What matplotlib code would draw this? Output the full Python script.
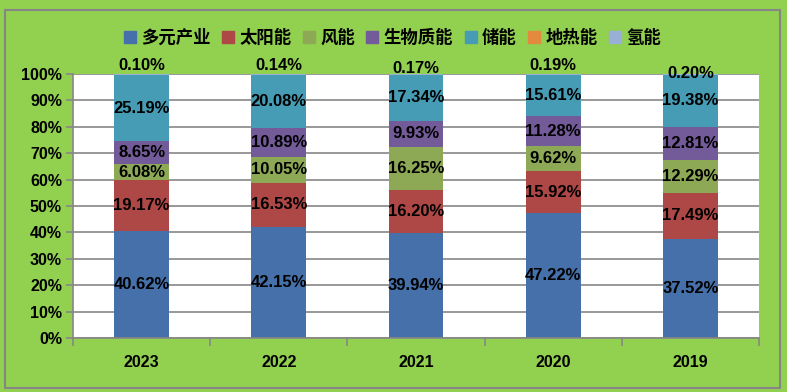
import matplotlib
matplotlib.use("Agg")
import matplotlib.pyplot as plt
from matplotlib.patches import Rectangle
from matplotlib.lines import Line2D
import numpy as np

plt.rcParams['font.family'] = ['Liberation Sans', 'Noto Sans CJK SC', 'DejaVu Sans']

years = ["2023", "2022", "2021", "2020", "2019"]
series_names = ["多元产业", "太阳能", "风能", "生物质能", "储能", "地热能", "氢能"]
duoyuan = [40.62, 42.15, 39.94, 47.22, 37.52]
taiyang = [19.17, 16.53, 16.20, 15.92, 17.49]
fengneng = [6.08, 10.05, 16.25, 9.62, 12.29]
shengwu = [8.65, 10.89, 9.93, 11.28, 12.81]
chuneng = [25.19, 20.08, 17.34, 15.61, 19.38]
dire = [0.05, 0.04, 0.05, 0.05, 0.31]
qingneng = [0.10, 0.14, 0.17, 0.19, 0.20]

colors = ["#4570A9", "#AE4846", "#8DA955", "#735A98", "#459CB4", "#E38A3E", "#98AFD6"]
top_label_y = [103.4, 103.4, 101.9, 103.4, 100.2]

bg = "#92D050"
fig = plt.figure(figsize=(7.87, 3.92), dpi=100, facecolor=bg)
ax = fig.add_axes([73/787, 1-338/392, (759-73)/787, (338-74)/392])
ax.set_facecolor("white")

data = [duoyuan, taiyang, fengneng, shengwu, chuneng, dire, qingneng]
x = np.arange(len(years))
bottom = np.zeros(len(years))
width = 0.40
for i, (vals, name, c) in enumerate(zip(data, series_names, colors)):
    vals = np.array(vals)
    ax.bar(x, vals, width, bottom=bottom, color=c, label=name, zorder=2)
    if i < 5:
        for xi, b, v in zip(x, bottom, vals):
            ax.text(xi, b + v/2, f"{v:.2f}%", ha="center", va="center",
                    fontsize=12, fontweight="bold", color="black", zorder=4)
    bottom += vals

for xi, v, ly in zip(x, qingneng, top_label_y):
    ax.text(xi, ly, f"{v:.2f}%", ha="center", va="center", fontsize=12,
            fontweight="bold", color="black", zorder=4, clip_on=False)

ax.set_xlim(-0.5, len(years) - 0.5)
ax.set_ylim(0, 100)
ax.set_yticks(np.arange(0, 101, 10))
ax.set_yticklabels([f"{v}%" for v in range(0, 101, 10)], fontsize=11.5, fontweight="bold")
ax.yaxis.grid(True, color="#868686", linewidth=1.2, zorder=0)
ax.set_axisbelow(True)
ax.tick_params(axis="y", length=5, width=1.2, color="#868686", pad=3)

ax.set_xticks(x)
ax.set_xticklabels(years, fontsize=11.5, fontweight="bold")
ax.tick_params(axis="x", length=0, pad=12)
ax.set_xticks(np.arange(-0.5, len(years), 1), minor=True)
ax.tick_params(axis="x", which="minor", length=6, width=1.2, color="#868686")

for side in ["top", "right"]:
    ax.spines[side].set_visible(False)
for side in ["left", "bottom"]:
    ax.spines[side].set_color("#868686")
    ax.spines[side].set_linewidth(1.2)

handles = [Line2D([0], [0], marker="s", linestyle="", markersize=8,
                  markerfacecolor=c, markeredgecolor=c) for c in colors]
leg = fig.legend(handles, series_names, loc="center", bbox_to_anchor=(392/787, 1-38/392),
                 ncol=7, frameon=False, handlelength=0.8, handletextpad=0.25,
                 columnspacing=0.6,
                 prop={"family": ["Noto Sans CJK SC"], "size": 12.5, "weight": "bold"})

fig.patches.append(Rectangle((5/787, 1-388/392), 775/787, (388-10)/392,
                             transform=fig.transFigure, fill=False,
                             edgecolor="#868686", linewidth=1.5))

fig.savefig("out.png", dpi=100, facecolor=bg)
